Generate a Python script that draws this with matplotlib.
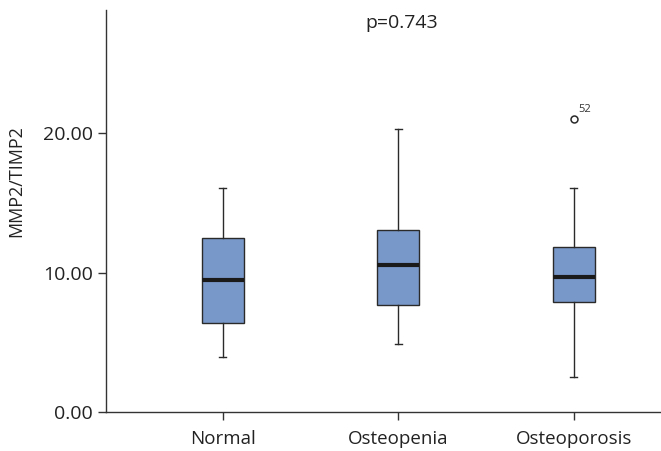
import matplotlib
matplotlib.use('Agg')
import matplotlib.pyplot as plt

groups = ['Normal', 'Osteopenia', 'Osteoporosis']
whisker_low = [4.0, 4.87, 2.51]
q1 = [6.38, 7.67, 7.93]
medians = [9.48, 10.54, 9.68]
q3 = [12.49, 13.07, 11.88]
whisker_high = [16.1, 20.3, 16.1]
outliers = [[], [], [21.0]]
outlier_labels = [[], [], ['52']]
p_text = 'p=0.743'

plt.rcParams['font.family'] = ['Open Sans', 'DejaVu Sans']

stats = []
for i, g in enumerate(groups):
    stats.append({
        'label': g, 'whislo': whisker_low[i], 'q1': q1[i], 'med': medians[i],
        'q3': q3[i], 'whishi': whisker_high[i], 'fliers': outliers[i],
    })

fig = plt.figure(figsize=(6.61, 4.51), dpi=100)
ax = fig.add_axes([0.1604, 0.0858, 0.8381, 0.8920])

positions = [1, 2, 3]
ax.bxp(stats, positions=positions, widths=0.24, patch_artist=True,
       capwidths=0.04,
       boxprops=dict(facecolor='#7898ca', edgecolor='#2a2a2a', linewidth=1.0),
       medianprops=dict(color='#1a1a1a', linewidth=3),
       whiskerprops=dict(color='#2a2a2a', linewidth=1.0),
       capprops=dict(color='#2a2a2a', linewidth=1.0),
       flierprops=dict(marker='o', markersize=5, markerfacecolor='white',
                       markeredgecolor='#2a2a2a', markeredgewidth=1.1))

for i, pts in enumerate(outliers):
    for v, lab in zip(pts, outlier_labels[i]):
        ax.annotate(lab, (positions[i], v), xytext=(3, 3), textcoords='offset points',
                    fontsize=8, color='#333333', ha='left', va='bottom')

ax.set_xlim(0.335, 3.49)
ax.set_ylim(0, 28.84)
ax.set_yticks([0, 10, 20])
ax.set_yticklabels(['0.00', '10.00', '20.00'])
ax.set_xticks(positions)
ax.set_xticklabels(groups)

for s in ['top', 'right']:
    ax.spines[s].set_visible(False)
for s in ['left', 'bottom']:
    ax.spines[s].set_color('#333333')
    ax.spines[s].set_linewidth(1.0)
ax.tick_params(axis='both', colors='#333333', labelcolor='#222222',
               length=6, width=1.0)
ax.tick_params(axis='y', labelsize=14)
ax.tick_params(axis='x', labelsize=13.5, pad=7)

ax.set_ylabel('MMP2/TIMP2', fontsize=13, color='#222222')
ax.yaxis.set_label_coords(-0.145, 0.575)

ax.text(2.02, 27.9, p_text, ha='center', va='center', fontsize=14, color='#222222')

fig.savefig('out.png', dpi=100)
